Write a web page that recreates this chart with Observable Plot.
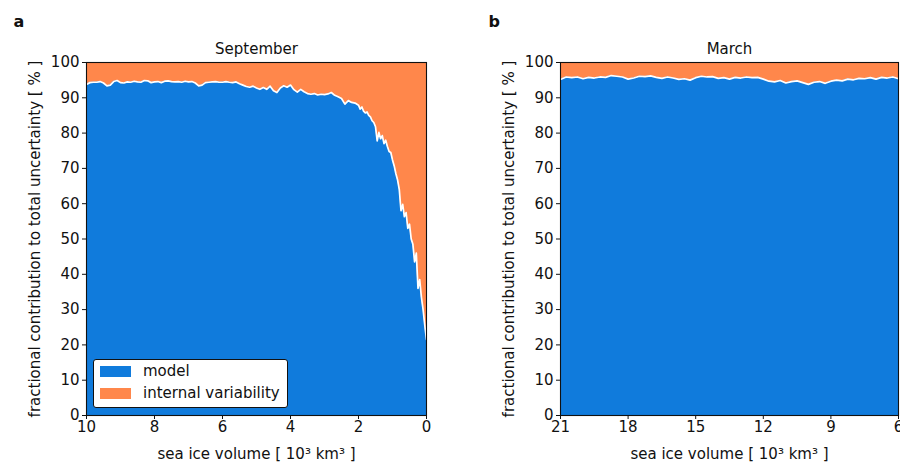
<!DOCTYPE html>
<html>
<head>
<meta charset="utf-8">
<script src="https://cdn.jsdelivr.net/npm/d3@7"></script>
<script src="https://cdn.jsdelivr.net/npm/@observablehq/plot@0.6"></script>
<style>
  html, body { margin: 0; padding: 0; background: #fff; overflow: hidden; }
  #wrap { position: relative; width: 900px; height: 462px; font-family: "DejaVu Sans", sans-serif; }
  .panel { position: absolute; top: 0; }
  #legend { position: absolute; left: 93px; top: 359px; width: 193px; height: 47px; border: 1px solid #111; border-radius: 3px; background: #fff; font-size: 15px; color: #111; }
  .li { position: absolute; left: 6px; height: 11px; }
  .sw { position: absolute; left: 0; top: 0; width: 31px; height: 11px; }
  .lt { position: absolute; left: 43px; top: -4px; white-space: nowrap; line-height: 18px; }
</style>
</head>
<body>
<div id="wrap"></div>
<script>
// ---- data ----
const titles = ["September", "March"];
const panelLabels = ["a", "b"];
const seriesNames = ["model", "internal variability"];
const colors = ["#107BDC", "#FF874B"];
const xLabel = "sea ice volume [ 10³ km³ ]";
const yLabel = "fractional contribution to total uncertainty [ % ]";
const yTicks = [0, 10, 20, 30, 40, 50, 60, 70, 80, 90, 100];
const sepTicks = [10, 8, 6, 4, 2, 0];
const marTicks = [21, 18, 15, 12, 9, 6];

// September: sea ice volume (10^3 km^3) and model share (%)
const sepVolume = [
  10.0, 9.9, 9.8, 9.7, 9.6, 9.5, 9.4, 9.3, 9.2, 9.1,
  9.0, 8.9, 8.8, 8.7, 8.6, 8.5, 8.4, 8.3, 8.2, 8.1,
  8.0, 7.9, 7.8, 7.7, 7.6, 7.5, 7.4, 7.3, 7.2, 7.1,
  7.0, 6.9, 6.8, 6.7, 6.6, 6.5, 6.4, 6.3, 6.2, 6.1,
  6.0, 5.9, 5.8, 5.7, 5.6, 5.5, 5.4, 5.3, 5.2, 5.1,
  5.0, 4.9, 4.8, 4.7, 4.6, 4.5, 4.4, 4.3, 4.2, 4.1,
  4.0, 3.9, 3.8, 3.7, 3.6, 3.5, 3.4, 3.3, 3.2, 3.1,
  3.0, 2.9, 2.8, 2.7, 2.6, 2.5, 2.4, 2.3, 2.2, 2.1,
  2.0, 1.95, 1.9, 1.85, 1.8, 1.75, 1.7, 1.65, 1.6, 1.55,
  1.5, 1.45, 1.4, 1.35, 1.3, 1.25, 1.2, 1.15, 1.1, 1.05,
  1.0, 0.95, 0.9, 0.85, 0.8, 0.75, 0.7, 0.65, 0.6, 0.55,
  0.5, 0.45, 0.4, 0.35, 0.3, 0.25, 0.2, 0.15, 0.1, 0.05, 0.0
];
const sepModel = [
  93.8, 94.3, 94.4, 94.4, 94.6, 94.2, 93.4, 93.6, 94.6, 94.9,
  94.3, 94.2, 94.5, 94.4, 94.7, 94.5, 94.4, 94.9, 94.8, 94.3,
  94.5, 94.6, 94.3, 94.7, 94.8, 94.6, 94.5, 94.6, 94.4, 94.7,
  94.5, 94.6, 94.2, 93.4, 93.6, 94.3, 94.4, 94.5, 94.6, 94.4,
  94.4, 94.6, 94.4, 94.3, 94.5, 94.0, 93.6, 93.2, 93.0, 93.3,
  92.8, 92.4, 92.9, 92.4, 93.3, 92.0, 91.5, 92.8, 93.4, 93.0,
  93.6, 92.3, 91.6, 92.4, 91.7, 91.2, 91.0, 91.2, 90.8, 91.0,
  90.9, 91.1, 91.5, 90.7, 90.3, 89.8, 88.2, 89.2, 88.7, 88.5,
  87.9, 86.8, 87.4, 86.2, 85.7, 86.0, 85.0, 84.6, 83.5, 83.0,
  81.8, 77.8, 80.2, 78.4, 79.3, 77.0, 78.0, 76.2, 74.8, 74.5,
  72.4, 70.7, 68.5, 66.7, 64.0, 58.0, 59.8, 56.3, 57.5, 53.0,
  54.2, 50.0, 48.5, 43.5, 46.0, 36.0, 38.5, 33.5, 30.0, 25.5, 21.5
];

// March: sea ice volume (10^3 km^3) and model share (%)
const marVolume = [
  21.0, 20.75, 20.5, 20.25, 20.0, 19.75, 19.5, 19.25, 19.0, 18.75,
  18.5, 18.25, 18.0, 17.75, 17.5, 17.25, 17.0, 16.75, 16.5, 16.25,
  16.0, 15.75, 15.5, 15.25, 15.0, 14.75, 14.5, 14.25, 14.0, 13.75,
  13.5, 13.25, 13.0, 12.75, 12.5, 12.25, 12.0, 11.75, 11.5, 11.25,
  11.0, 10.75, 10.5, 10.25, 10.0, 9.75, 9.5, 9.25, 9.0, 8.75,
  8.5, 8.25, 8.0, 7.75, 7.5, 7.25, 7.0, 6.75, 6.5, 6.25, 6.0
];
const marModel = [
  95.2, 95.9, 95.7, 95.9, 95.4, 95.8, 95.6, 95.9, 95.8, 96.3,
  96.1, 95.9, 95.3, 95.6, 96.1, 96.0, 96.2, 95.8, 95.5, 95.9,
  95.6, 95.2, 95.4, 95.0, 95.7, 96.1, 95.9, 96.0, 95.5, 95.7,
  95.3, 95.8, 95.6, 95.9, 95.7, 95.8, 95.3, 94.7, 94.5, 94.9,
  94.2, 94.6, 94.8, 94.3, 93.8, 94.4, 94.6, 94.1, 94.7, 95.0,
  94.8, 95.3, 95.1, 95.5, 95.4, 95.7, 95.3, 95.8, 95.6, 95.9, 95.4
];

// ---- drawing ----
const FS = 15;
function panel(volume, model, domain, ticks, title, tag, ml, mr, tagX) {
  const data = volume.map((v, i) => ({vol: v, model: model[i]}));
  return Plot.plot({
    width: 450, height: 462,
    marginLeft: ml, marginRight: mr, marginTop: 62, marginBottom: 47,
    style: {fontFamily: "DejaVu Sans, sans-serif", fontSize: FS + "px", color: "#111", background: "transparent", overflow: "visible"},
    x: {domain: domain},
    y: {domain: [0, 100]},
    marks: [
      Plot.areaY(data, {x: "vol", y1: 0, y2: 100, fill: colors[1]}),
      Plot.areaY(data, {x: "vol", y1: 0, y2: "model", fill: colors[0]}),
      Plot.line(data, {x: "vol", y: "model", stroke: "white", strokeWidth: 1.7}),
      Plot.frame({stroke: "#111", strokeWidth: 1.1}),
      Plot.axisX({ticks: ticks, tickSize: 4, tickPadding: 2, tickFormat: d => String(d), fontSize: FS,
        label: xLabel, labelAnchor: "center", labelArrow: "none", labelOffset: 43}),
      Plot.axisY({ticks: yTicks, tickSize: 4, tickPadding: 3, fontSize: FS,
        label: yLabel, labelAnchor: "center", labelArrow: "none", labelOffset: 57}),
      Plot.text([title], {frameAnchor: "top", dy: -19, text: d => d, fontSize: FS}),
      Plot.text([tag], {frameAnchor: "top-left", textAnchor: "start", dx: tagX - ml, dy: -47, text: d => d, fontSize: 16, fontWeight: "bold"})
    ]
  });
}

const wrap = document.getElementById("wrap");
const p1 = panel(sepVolume, sepModel, [10, 0], sepTicks, titles[0], panelLabels[0], 86, 24, 13);
p1.classList.add("panel"); p1.style.left = "0px";
const p2 = panel(marVolume, marModel, [21, 6], marTicks, titles[1], panelLabels[1], 110, 2, 38);
p2.classList.add("panel"); p2.style.left = "450px";
wrap.appendChild(p1);
wrap.appendChild(p2);

const lg = document.createElement("div");
lg.id = "legend";
seriesNames.forEach((name, i) => {
  const li = document.createElement("div");
  li.className = "li";
  li.style.top = (6 + i * 22) + "px";
  li.innerHTML = `<div class="sw" style="background:${colors[i]}"></div><div class="lt">${name}</div>`;
  lg.appendChild(li);
});
wrap.appendChild(lg);
</script>
</body>
</html>
